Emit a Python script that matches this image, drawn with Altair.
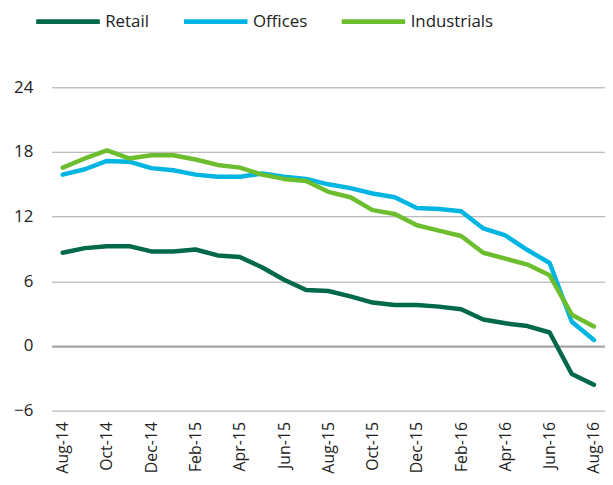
import altair as alt
import pandas as pd

months = ["Aug-14", "Sep-14", "Oct-14", "Nov-14", "Dec-14", "Jan-15", "Feb-15", "Mar-15",
          "Apr-15", "May-15", "Jun-15", "Jul-15", "Aug-15", "Sep-15", "Oct-15", "Nov-15",
          "Dec-15", "Jan-16", "Feb-16", "Mar-16", "Apr-16", "May-16", "Jun-16", "Jul-16", "Aug-16"]
retail = [8.65, 9.08, 9.26, 9.26, 8.77, 8.77, 8.95, 8.4, 8.25, 7.3, 6.15, 5.2, 5.1, 4.6,
          4.03, 3.8, 3.8, 3.65, 3.4, 2.45, 2.1, 1.85, 1.25, -2.6, -3.6]
offices = [15.9, 16.4, 17.17, 17.1, 16.5, 16.3, 15.9, 15.7, 15.7, 16.0, 15.7, 15.5, 15.0,
           14.65, 14.15, 13.8, 12.8, 12.7, 12.5, 10.9, 10.25, 8.9, 7.7, 2.25, 0.55]
industrials = [16.55, 17.4, 18.15, 17.4, 17.7, 17.7, 17.3, 16.8, 16.55, 15.9, 15.5, 15.3,
               14.3, 13.8, 12.6, 12.25, 11.2, 10.7, 10.2, 8.65, 8.1, 7.55, 6.55, 2.9, 1.8]
series = ["Retail", "Offices", "Industrials"]
colors = ["#00694A", "#00B5E2", "#6CBE2E"]
y_ticks = [-6, 0, 6, 12, 18, 24]
x_ticks = months[::2]

rows = []
for name, vals in zip(series, [retail, offices, industrials]):
    for m, v in zip(months, vals):
        rows.append({"month": m, "value": v, "series": name})
df = pd.DataFrame(rows)

FONT = "Open Sans"

chart = alt.Chart(df).mark_line(strokeWidth=4.5, strokeJoin="round", strokeCap="round").encode(
    x=alt.X("month:O", sort=months, title=None,
            scale=alt.Scale(type="point", padding=0.5),
            axis=alt.Axis(values=x_ticks, labelAngle=-90, labelAlign="right", labelBaseline="middle",
                          labelPadding=11, ticks=False, domain=False, grid=False,
                          labelFont=FONT, labelFontSize=16, labelColor="#222222")),
    y=alt.Y("value:Q", title=None,
            scale=alt.Scale(domain=[-6, 24], nice=False, zero=False),
            axis=alt.Axis(values=y_ticks, ticks=False, domain=False, labelPadding=19,
                          grid=True, gridColor="#A6A6A6",
                          gridWidth={"condition": {"test": "datum.value === 0", "value": 2.2}, "value": 1},
                          labelFont=FONT, labelFontSize=17, labelColor="#222222")),
    color=alt.Color("series:N", sort=series,
                    scale=alt.Scale(domain=series, range=colors),
                    legend=alt.Legend(title=None, orient="none", direction="horizontal",
                                      legendX=-18, legendY=-101,
                                      symbolType="stroke", symbolSize=4096, symbolStrokeWidth=5,
                                      labelOffset=3, columnPadding=24,
                                      labelFont=FONT, labelFontSize=17, labelColor="#222222")),
).properties(
    width=558, height=326,
    autosize=alt.AutoSizeParams(type="none"),
    padding={"left": 44, "top": 78, "right": 0, "bottom": 70},
).configure_view(stroke=None)

chart.save("out.html", embed_options={"renderer": "svg", "actions": False})
